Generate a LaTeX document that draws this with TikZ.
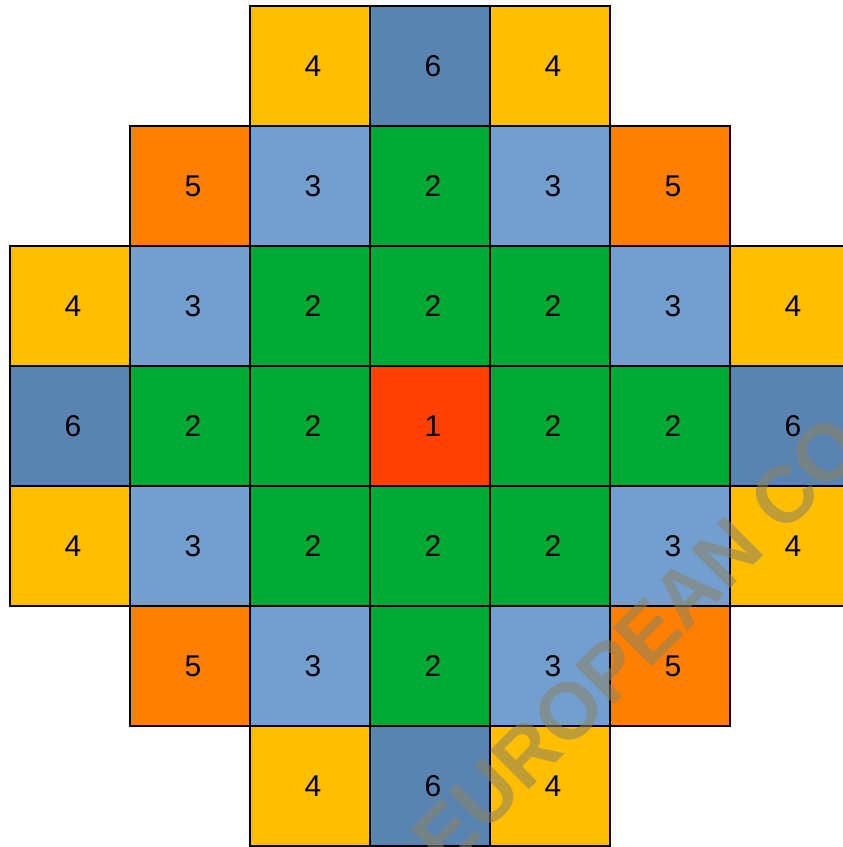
\documentclass[tikz,border=0pt]{standalone}
\usepackage{fontspec}
\setmainfont{Liberation Sans}
\definecolor{cyel}{HTML}{FFBF00}
\definecolor{cdblue}{HTML}{5983B0}
\definecolor{clblue}{HTML}{729FCF}
\definecolor{cgreen}{HTML}{00A933}
\definecolor{cred}{HTML}{FF4000}
\definecolor{corange}{HTML}{FF8000}
\definecolor{cwater}{RGB}{140,130,100}
\tikzset{
  cell/.style={draw=black, line width=1.3pt, minimum width=120pt, minimum height=120pt,
    inner sep=0pt, outer sep=0pt},
  num/.style={font=\fontsize{30}{36}\selectfont, text=black, inner sep=0pt, xshift=3pt},
  c1/.style={cell, fill=cred},
  c2/.style={cell, fill=cgreen},
  c3/.style={cell, fill=clblue},
  c4/.style={cell, fill=cyel},
  c5/.style={cell, fill=corange},
  c6/.style={cell, fill=cdblue},
  watermark/.style={font=\fontsize{80}{92}\bfseries\selectfont, text=cwater, text opacity=0.55, rotate=45, inner sep=0pt}
}
\newcommand{\cellat}[4]{\node[#1] (#2) at (#3) {}; \node[num] (#2n) at (#2.center) {#4};}
\begin{document}
\begin{tikzpicture}[x=1pt, y=-1pt]
\useasboundingbox (0,0) rectangle (843,847);
\clip (0,0) rectangle (843,847);
% row 0
\cellat{c4}{r0c2}{310,66}{4}
\cellat{c6}{r0c3}{430,66}{6}
\cellat{c4}{r0c4}{550,66}{4}
% row 1
\cellat{c5}{r1c1}{190,186}{5}
\cellat{c3}{r1c2}{310,186}{3}
\cellat{c2}{r1c3}{430,186}{2}
\cellat{c3}{r1c4}{550,186}{3}
\cellat{c5}{r1c5}{670,186}{5}
% row 2
\cellat{c4}{r2c0}{70,306}{4}
\cellat{c3}{r2c1}{190,306}{3}
\cellat{c2}{r2c2}{310,306}{2}
\cellat{c2}{r2c3}{430,306}{2}
\cellat{c2}{r2c4}{550,306}{2}
\cellat{c3}{r2c5}{670,306}{3}
\cellat{c4}{r2c6}{790,306}{4}
% row 3
\cellat{c6}{r3c0}{70,426}{6}
\cellat{c2}{r3c1}{190,426}{2}
\cellat{c2}{r3c2}{310,426}{2}
\cellat{c1}{r3c3}{430,426}{1}
\cellat{c2}{r3c4}{550,426}{2}
\cellat{c2}{r3c5}{670,426}{2}
\cellat{c6}{r3c6}{790,426}{6}
% row 4
\cellat{c4}{r4c0}{70,546}{4}
\cellat{c3}{r4c1}{190,546}{3}
\cellat{c2}{r4c2}{310,546}{2}
\cellat{c2}{r4c3}{430,546}{2}
\cellat{c2}{r4c4}{550,546}{2}
\cellat{c3}{r4c5}{670,546}{3}
\cellat{c4}{r4c6}{790,546}{4}
% row 5
\cellat{c5}{r5c1}{190,666}{5}
\cellat{c3}{r5c2}{310,666}{3}
\cellat{c2}{r5c3}{430,666}{2}
\cellat{c3}{r5c4}{550,666}{3}
\cellat{c5}{r5c5}{670,666}{5}
% row 6
\cellat{c4}{r6c2}{310,786}{4}
\cellat{c6}{r6c3}{430,786}{6}
\cellat{c4}{r6c4}{550,786}{4}
% watermark
\node[watermark] (wm) at (638,642) {EUROPEAN CO};
\end{tikzpicture}
\end{document}
